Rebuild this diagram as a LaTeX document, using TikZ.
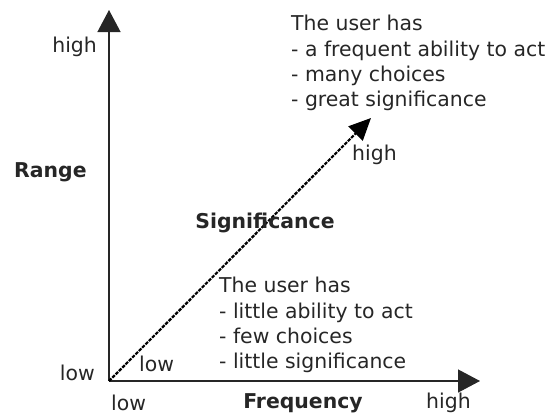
\documentclass[tikz,border=0pt]{standalone}
\usepackage{fontspec}
\setmainfont{DejaVu Sans}
\usetikzlibrary{arrows.meta}
\definecolor{ink}{HTML}{262626}
\tikzset{
  axis/.style={line width=1.3pt, draw=ink, -{Triangle[width=23pt,length=22pt]}},
  diag/.style={line width=2.2pt, draw=black, dash pattern=on 3.5pt off 1.2pt, -{Triangle[width=20pt,length=22pt]}},
  lbl/.style={font=\fontsize{20.4}{24}\selectfont, text=ink, inner sep=0pt},
  bold/.style={font=\fontsize{20.4}{24}\selectfont\bfseries, text=ink, inner sep=0pt},
  block/.style={font=\fontsize{20.4}{25.3}\selectfont, text=ink, inner sep=0pt, align=left}
}
\begin{document}
\begin{tikzpicture}[x=1pt,y=-1pt]
\useasboundingbox (0,0) rectangle (550,416);
\coordinate (O) at (109,381);
\coordinate (Ytip) at (109,10);
\coordinate (Xtip) at (480,381);
\coordinate (Dtip) at (371,118);
\draw[axis] (O) -- (Ytip);
\draw[axis] (O) -- (Xtip);
\draw[diag] (O) -- (Dtip);
\node[lbl, anchor=east] (yhigh) at (97,47) {high};
\node[bold, anchor=west] (range) at (14,172) {Range};
\node[lbl, anchor=east] (ylow) at (95,373) {low};
\node[lbl, anchor=west] (dlow) at (139,364) {low};
\node[lbl, anchor=west] (xlow) at (111,403) {low};
\node[bold] (freq) at (303,403) {Frequency};
\node[lbl, anchor=west] (xhigh) at (426,403) {high};
\node[lbl, anchor=west] (dhigh) at (352,155) {high};
\node[bold] (sig) at (265,223) {Significance};
\node[block, anchor=north west] (top) at (291,15) {The user has\\- a frequent ability to act\\- many choices\\- great significance};
\node[block, anchor=north west] (bot) at (219,277) {The user has\\- little ability to act\\- few choices\\- little significance};
\end{tikzpicture}
\end{document}
